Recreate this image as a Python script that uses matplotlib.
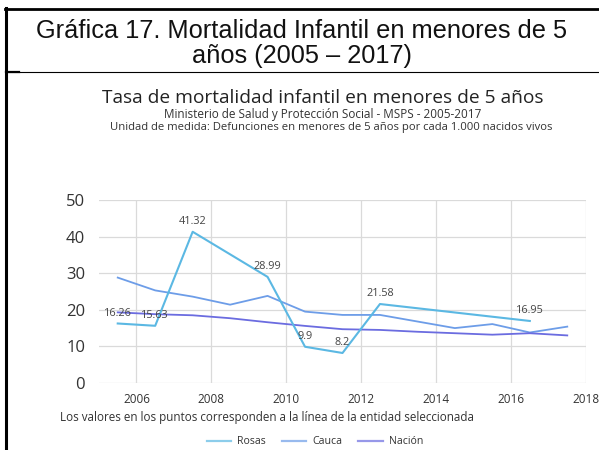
import matplotlib
matplotlib.use("Agg")
import matplotlib.pyplot as plt
from matplotlib.lines import Line2D

# ---- data ----
rosas_x = [2005.5, 2006.5, 2007.5, 2009.5, 2010.5, 2011.5, 2012.5, 2016.5]
rosas_y = [16.26, 15.63, 41.32, 28.99, 9.9, 8.2, 21.58, 16.95]
years = [2005.5, 2006.5, 2007.5, 2008.5, 2009.5, 2010.5, 2011.5, 2012.5,
         2013.5, 2014.5, 2015.5, 2016.5, 2017.5]
cauca_y = [28.8, 25.3, 23.6, 21.4, 23.8, 19.5, 18.6, 18.6, 16.8, 15.0, 16.1, 13.8, 15.4]
nacion_y = [19.3, 18.8, 18.5, 17.7, 16.6, 15.6, 14.7, 14.5, 14.0, 13.6, 13.2, 13.6, 13.0]
xticks = [2006, 2008, 2010, 2012, 2014, 2016, 2018]
yticks = [0, 10, 20, 30, 40, 50]

c_rosas = "#5bb8e3"
c_cauca = "#6d9de8"
c_nacion = "#6b6ce0"

ff = "Open Sans"
fig = plt.figure(figsize=(5.99, 4.5), dpi=100)

# ---- document table frame ----
W, H = 599, 450
def fx(x): return x / W
def fy(y): return 1 - y / H
fig.add_artist(Line2D([fx(5), fx(599)], [fy(8.5), fy(8.5)], color="black", lw=2.0))
fig.add_artist(Line2D([fx(6), fx(6)], [fy(8), fy(450)], color="black", lw=2.2))
fig.add_artist(Line2D([fx(6), fx(599)], [fy(71.5), fy(71.5)], color="black", lw=0.8))
fig.add_artist(Line2D([fx(6), fx(19)], [fy(71.5), fy(71.5)], color="black", lw=1.6))
fig.text(fx(302), fy(31), "Gráfica 17. Mortalidad Infantil en menores de 5",
         ha="center", va="center", fontsize=18.3, family="Liberation Sans", color="#111111")
fig.text(fx(302), fy(56), "años (2005 – 2017)",
         ha="center", va="center", fontsize=18.3, family="Liberation Sans", color="#111111")

# ---- chart titles ----
fig.text(fx(323), fy(98), "Tasa de mortalidad infantil en menores de 5 años",
         ha="center", va="center", fontsize=13.8, family=ff, color="#222222")
fig.text(fx(323), fy(114), "Ministerio de Salud y Protección Social - MSPS - 2005-2017",
         ha="center", va="center", fontsize=8.5, family=ff, color="#333333")
fig.text(fx(331), fy(127.5), "Unidad de medida: Defunciones en menores de 5 años por cada 1.000 nacidos vivos",
         ha="center", va="center", fontsize=8.1, family=ff, color="#333333")

ax = fig.add_axes([fx(99), fy(383), fx(586) - fx(99), fy(200) - fy(383)])
ax.plot(years, cauca_y, color=c_cauca, lw=1.3, zorder=3)
ax.plot(years, nacion_y, color=c_nacion, lw=1.3, zorder=3)
ax.plot(rosas_x, rosas_y, color=c_rosas, lw=1.5, zorder=4)

for x, y in zip(rosas_x, rosas_y):
    lab = f"{y:g}"
    ax.annotate(lab, (x, y), xytext=(0, 3.5), textcoords="offset points",
                ha="center", va="bottom", fontsize=7.8, family=ff, color="#444444", zorder=5)

ax.set_xlim(2005, 2018)
ax.set_ylim(0, 50)
ax.set_xticks(xticks)
ax.set_yticks(yticks)
ax.grid(True, color="#dadada", lw=0.9)
ax.set_axisbelow(True)
for s in ax.spines.values():
    s.set_visible(False)
ax.tick_params(length=0)
ax.tick_params(axis="x", labelsize=8.5, pad=7, labelcolor="#333333")
ax.tick_params(axis="y", labelsize=12, pad=10, labelcolor="#333333")
for t in ax.get_xticklabels() + ax.get_yticklabels():
    t.set_family(ff)

fig.text(fx(60), fy(417), "Los valores en los puntos corresponden a la línea de la entidad seleccionada",
         ha="left", va="center", fontsize=8.4, family=ff, color="#333333")

handles = [Line2D([], [], color=c_rosas, lw=1.6, alpha=0.7),
           Line2D([], [], color=c_cauca, lw=1.6, alpha=0.7),
           Line2D([], [], color=c_nacion, lw=1.6, alpha=0.7)]
fig.legend(handles, ["Rosas", "Cauca", "Nación"], loc="center", bbox_to_anchor=(fx(315), fy(442)),
           ncol=3, frameon=False, prop={"family": ff, "size": 7.6}, handlelength=2.3,
           columnspacing=1.5, handletextpad=0.6, labelcolor="#333333")

fig.savefig("out.png", dpi=100)
